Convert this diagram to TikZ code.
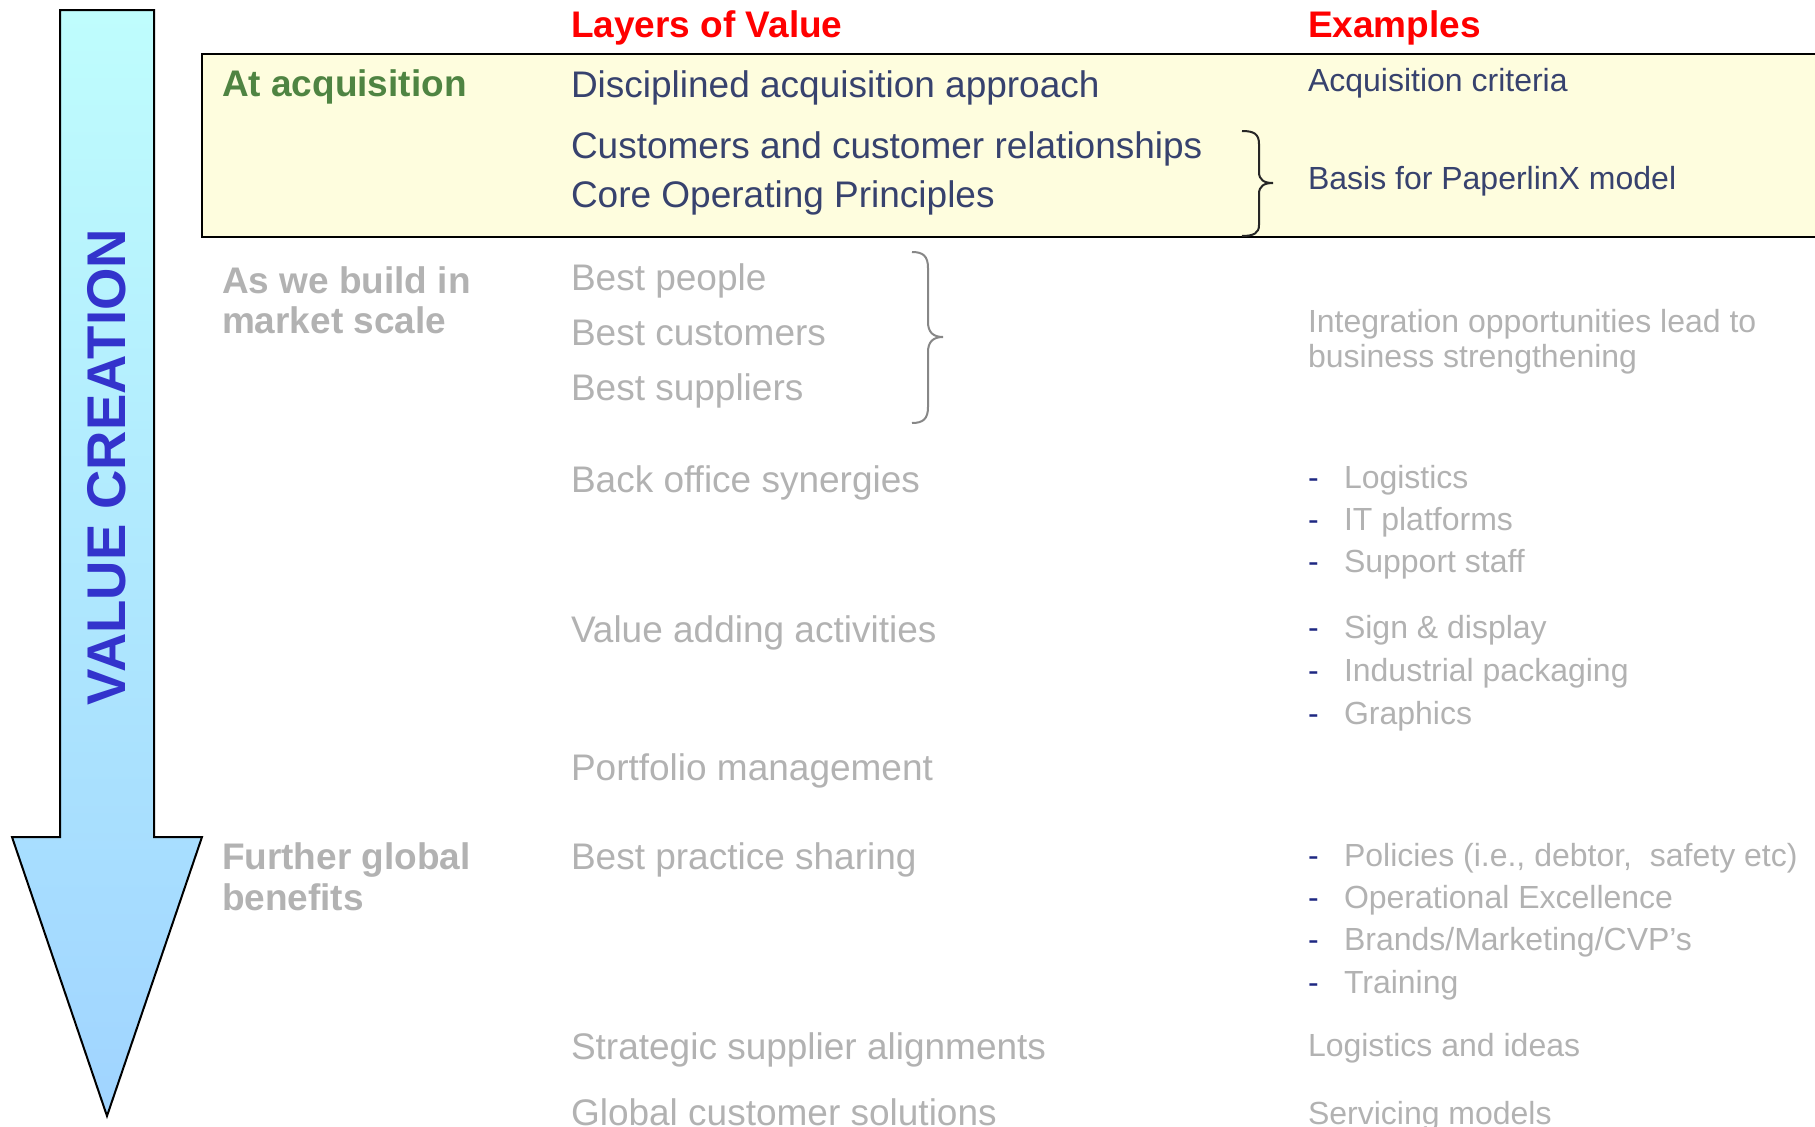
\documentclass[tikz,border=0pt]{standalone}
\usepackage{fontspec}
\setmainfont{Liberation Sans}
\definecolor{hdred}{RGB}{255,0,0}
\definecolor{acqgreen}{RGB}{79,132,66}
\definecolor{navytext}{RGB}{55,66,110}
\definecolor{greytext}{RGB}{178,178,178}
\definecolor{dashblue}{RGB}{30,40,130}
\definecolor{boxfill}{RGB}{254,253,222}
\definecolor{arrowtop}{RGB}{191,253,253}
\definecolor{arrowbot}{RGB}{160,212,255}
\definecolor{vcblue}{RGB}{51,51,204}
\definecolor{bracegrey}{RGB}{135,135,135}
\tikzset{
  txt/.style={anchor=base west, inner sep=0pt, outer sep=0pt},
  big/.style={txt, font=\fontsize{37}{40}\selectfont},
  bigb/.style={txt, font=\fontsize{37}{40}\selectfont\bfseries},
  small/.style={txt, font=\fontsize{32}{35}\selectfont},
  dashmark/.style={small, text=dashblue},
}
\begin{document}
\begin{tikzpicture}[x=1pt, y=-1pt]
\useasboundingbox (0,0) rectangle (1815,1127);
% big arrow
\path[draw=black, line width=2pt, line join=miter, top color=arrowtop, bottom color=arrowbot]
  (60,10) -- (154,10) -- (154,837) -- (202,837) -- (107,1116) -- (12,837) -- (60,837) -- cycle;
\node[rotate=90, anchor=base, inner sep=0pt, text=vcblue, font=\fontsize{54.5}{60}\selectfont\bfseries] (vc) at (125,467) {VALUE CREATION};
% yellow box
\fill[boxfill] (202,54) rectangle (1815,237);
\draw[line width=2pt] (1817,54) -- (202,54) -- (202,237) -- (1817,237);
% headers
\node[bigb, text=hdred] (h1) at (571,37.5) {Layers of Value};
\node[bigb, text=hdred] (h2) at (1308,37.5) {Examples};
% at acquisition
\node[bigb, text=acqgreen] (l1) at (222,96.5) {At acquisition};
\node[big, text=navytext] (a1) at (571,97) {Disciplined acquisition approach};
\node[big, text=navytext] (a2) at (571,158.5) {Customers and customer relationships};
\node[big, text=navytext] (a3) at (571,207.5) {Core Operating Principles};
\node[small, text=navytext] (e1) at (1308,91.5) {Acquisition criteria};
\node[small, text=navytext] (e2) at (1308,189.5) {Basis for PaperlinX model};
\draw[line width=2pt, black!85] (1242,131) .. controls (1254,131) and (1259,134) .. (1259,144) -- (1259,172)
  .. controls (1259,180) and (1264,183) .. (1273,183)
  .. controls (1264,183) and (1259,186) .. (1259,194) -- (1259,225)
  .. controls (1259,233) and (1254,236) .. (1242,236);
% market scale
\node[bigb, text=greytext] (l2a) at (222,293.5) {As we build in};
\node[bigb, text=greytext] (l2b) at (222,333.5) {market scale};
\node[big, text=greytext] (b1) at (571,290.5) {Best people};
\node[big, text=greytext] (b2) at (571,345.5) {Best customers};
\node[big, text=greytext] (b3) at (571,400.5) {Best suppliers};
\draw[line width=2pt, bracegrey] (912,252) .. controls (923,252) and (928,256) .. (928,268) -- (928,322)
  .. controls (928,332) and (933,337) .. (943,337)
  .. controls (933,337) and (928,342) .. (928,352) -- (928,407)
  .. controls (928,419) and (923,423) .. (912,423);
\node[small, text=greytext] (i1) at (1308,332.5) {Integration opportunities lead to};
\node[small, text=greytext] (i2) at (1308,367.5) {business strengthening};
\node[big, text=greytext] (b4) at (571,492) {Back office synergies};
\node[dashmark] (d1) at (1308,488) {-};
\node[small, text=greytext] (x1) at (1344,488) {Logistics};
\node[dashmark] (d2) at (1308,530) {-};
\node[small, text=greytext] (x2) at (1344,530) {IT platforms};
\node[dashmark] (d3) at (1308,572.5) {-};
\node[small, text=greytext] (x3) at (1344,572.5) {Support staff};
\node[big, text=greytext] (b5) at (571,642.5) {Value adding activities};
\node[dashmark] (d4) at (1308,638.5) {-};
\node[small, text=greytext] (x4) at (1344,638.5) {Sign \& display};
\node[dashmark] (d5) at (1308,681.5) {-};
\node[small, text=greytext] (x5) at (1344,681.5) {Industrial packaging};
\node[dashmark] (d6) at (1308,724) {-};
\node[small, text=greytext] (x6) at (1344,724) {Graphics};
\node[big, text=greytext] (b6) at (571,780.5) {Portfolio management};
% further global benefits
\node[bigb, text=greytext] (l3a) at (222,869.5) {Further global};
\node[bigb, text=greytext] (l3b) at (222,910.5) {benefits};
\node[big, text=greytext] (c1) at (571,869.5) {Best practice sharing};
\node[dashmark] (d7) at (1308,866) {-};
\node[small, text=greytext] (y1) at (1344,866) {Policies (i.e., debtor,\ \ safety etc)};
\node[dashmark] (d8) at (1308,908) {-};
\node[small, text=greytext] (y2) at (1344,908) {Operational Excellence};
\node[dashmark] (d9) at (1308,950) {-};
\node[small, text=greytext] (y3) at (1344,950) {Brands/Marketing/CVP’s};
\node[dashmark] (d10) at (1308,993) {-};
\node[small, text=greytext] (y4) at (1344,993) {Training};
\node[big, text=greytext] (c2) at (571,1059.5) {Strategic supplier alignments};
\node[small, text=greytext] (y5) at (1308,1056) {Logistics and ideas};
\node[big, text=greytext] (c3) at (571,1125.5) {Global customer solutions};
\node[small, text=greytext] (y6) at (1308,1124) {Servicing models};
\end{tikzpicture}
\end{document}
